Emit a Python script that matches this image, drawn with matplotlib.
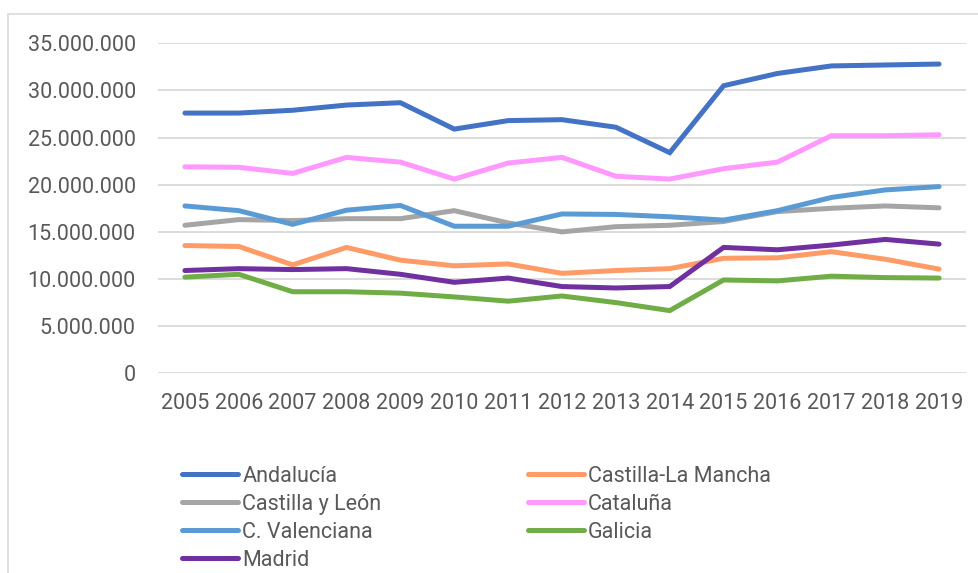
import matplotlib
matplotlib.use("Agg")
import matplotlib.pyplot as plt
from matplotlib.ticker import FuncFormatter, MultipleLocator
from matplotlib.patches import Rectangle

# datos por comunidad (millones)
anios = [2005, 2006, 2007, 2008, 2009, 2010, 2011, 2012, 2013, 2014, 2015, 2016, 2017, 2018, 2019]

andalucia = [27.6, 27.6, 27.9, 28.45, 28.7, 25.9, 26.8, 26.9, 26.1, 23.4, 30.5, 31.8, 32.6, 32.7, 32.8]
castilla_mancha = [13.55, 13.45, 11.5, 13.35, 12.0, 11.4, 11.6, 10.6, 10.9, 11.1, 12.2, 12.25, 12.9, 12.1, 11.05]
castilla_leon = [15.7, 16.3, 16.2, 16.4, 16.4, 17.25, 15.95, 15.0, 15.55, 15.7, 16.1, 17.15, 17.5, 17.75, 17.55]
cataluna = [21.9, 21.85, 21.2, 22.9, 22.4, 20.6, 22.3, 22.9, 20.9, 20.6, 21.7, 22.4, 25.2, 25.2, 25.3]
valenciana = [17.75, 17.25, 15.8, 17.3, 17.8, 15.6, 15.6, 16.9, 16.85, 16.6, 16.25, 17.25, 18.65, 19.45, 19.8]
galicia = [10.2, 10.5, 8.65, 8.65, 8.5, 8.1, 7.65, 8.2, 7.5, 6.65, 9.9, 9.8, 10.3, 10.15, 10.1]
madrid = [10.9, 11.1, 11.0, 11.1, 10.5, 9.65, 10.1, 9.2, 9.05, 9.2, 13.35, 13.1, 13.6, 14.2, 13.7]

nombres = ["Andalucía", "Castilla-La Mancha", "Castilla y León", "Cataluña",
           "C. Valenciana", "Galicia", "Madrid"]
series = [andalucia, castilla_mancha, castilla_leon, cataluna, valenciana, galicia, madrid]
colores = ["#4472C4", "#FF9B66", "#A5A5A5", "#FF99FF", "#5B9BD5", "#70AD47", "#7030A0"]

plt.rcParams['font.family'] = ['Roboto', 'DejaVu Sans']
gris = "#595959"

W, H = 979, 573
fig = plt.figure(figsize=(W / 100, H / 100), dpi=100)

# marco del grafico
fig.patches.append(Rectangle((8 / W, -0.1), 1.2, 1 - 14 / H + 0.1, transform=fig.transFigure,
                             fill=False, edgecolor="#D9D9D9", linewidth=1.2))

ax = fig.add_axes([158 / W, 1 - 373.3 / H, (966 - 158) / W, (373.3 - 43.3) / H])

x = list(range(len(anios)))
lineas = []
for nombre, valores, color in zip(nombres, series, colores):
    l, = ax.plot(x, [v * 1e6 for v in valores], color=color, linewidth=3.6,
                 solid_capstyle='round', solid_joinstyle='miter', label=nombre)
    lineas.append(l)

ax.set_xlim(-0.5, len(anios) - 0.5)
ax.set_ylim(0, 35e6)
ax.yaxis.set_major_locator(MultipleLocator(5e6))
ax.yaxis.set_major_formatter(FuncFormatter(lambda v, p: f"{v:,.0f}".replace(",", ".")))
ax.set_xticks(x)
ax.set_xticklabels([str(a) for a in anios])
ax.tick_params(axis='both', length=0, labelsize=15.5, labelcolor=gris)
ax.tick_params(axis='y', pad=16)
ax.tick_params(axis='x', pad=14)
ax.grid(axis='y', color="#D9D9D9", linewidth=1.3)
ax.set_axisbelow(True)
for s in ax.spines.values():
    s.set_visible(False)

# leyenda: orden por filas como en Excel
orden = [0, 2, 4, 6, 1, 3, 5]
leg = fig.legend([lineas[i] for i in orden], [nombres[i] for i in orden],
                 loc='upper left', bbox_to_anchor=(182 / W, 1 - 466 / H),
                 ncol=2, frameon=False, fontsize=15.5, labelcolor=gris,
                 handlelength=2.6, handletextpad=0.2, columnspacing=6.8,
                 labelspacing=0.32, borderpad=0, borderaxespad=0)

fig.savefig("out.png", dpi=100)
